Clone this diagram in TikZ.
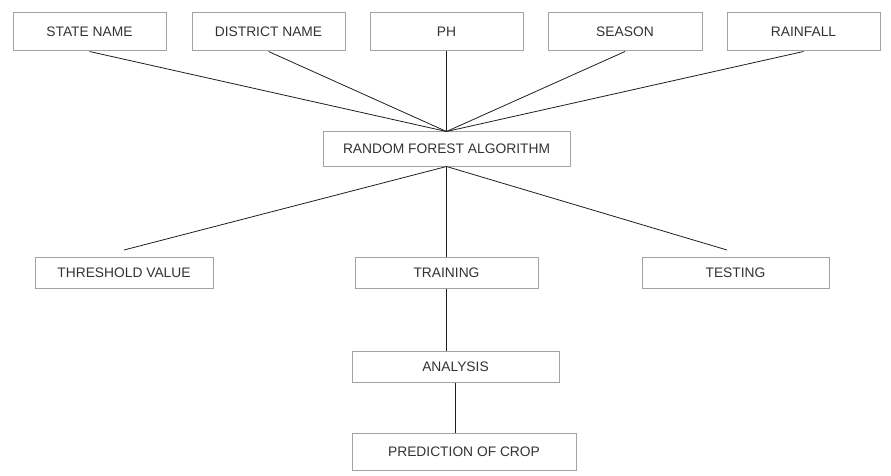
\documentclass[tikz,border=0pt]{standalone}
\usepackage{fontspec}
\setmainfont{Liberation Sans}
\usetikzlibrary{calc}
\definecolor{boxgray}{HTML}{A3A3A3}
\definecolor{txtgray}{HTML}{333333}
\definecolor{linegray}{HTML}{1E1E1E}
\begin{document}
\begin{tikzpicture}[x=1pt,y=-1pt,
  box/.style={draw=boxgray,line width=1pt,fill=white,inner sep=0pt,text=txtgray,
    font=\fontsize{13.8}{16}\selectfont},
  conn/.style={draw=linegray,line width=0.8pt}]
\useasboundingbox (0,0) rectangle (891,476);
% top row
\node[box,minimum width=153pt,minimum height=38pt] (state) at (89.5,32) {STATE NAME};
\node[box,minimum width=153pt,minimum height=38pt] (district) at (268.5,32) {DISTRICT NAME};
\node[box,minimum width=153pt,minimum height=38pt] (ph) at (446.5,32) {PH};
\node[box,minimum width=154pt,minimum height=38pt] (season) at (625,32) {SEASON};
\node[box,minimum width=153pt,minimum height=38pt] (rain) at (803.5,32) {RAINFALL};
% middle
\node[box,minimum width=247pt,minimum height=34pt] (rf) at (446.5,149) {RANDOM FOREST ALGORITHM};
% third row
\node[box,minimum width=178pt,minimum height=31pt] (thr) at (124,272.5) {THRESHOLD VALUE};
\node[box,minimum width=183pt,minimum height=31pt] (train) at (446.5,272.5) {TRAINING};
\node[box,minimum width=187pt,minimum height=31pt] (test) at (735.5,272.5) {TESTING};
% lower
\node[box,minimum width=207pt,minimum height=31pt] (ana) at (455.5,366.5) {ANALYSIS};
\node[box,minimum width=224pt,minimum height=37pt] (pred) at (464,451.5) {PREDICTION OF CROP};
% free ends
\coordinate (thrend) at (124,250);
\coordinate (testend) at (727,250);
% connectors
\draw[conn] (state.south) -- (rf.north);
\draw[conn] (district.south) -- (rf.north);
\draw[conn] (ph.south) -- (rf.north);
\draw[conn] (season.south) -- (rf.north);
\draw[conn] (rain.south) -- (rf.north);
\draw[conn] (rf.south) -- (thrend);
\draw[conn] (rf.south) -- (train.north);
\draw[conn] (rf.south) -- (testend);
\draw[conn] (train.south) -- (train.south |- ana.north);
\draw[conn] (ana.south) -- (ana.south |- pred.north);
\end{tikzpicture}
\end{document}
